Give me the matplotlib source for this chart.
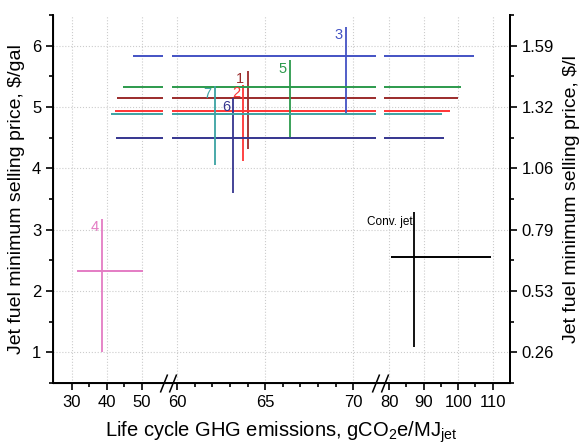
import numpy as np
import matplotlib
matplotlib.use("Agg")
import matplotlib.pyplot as plt
from matplotlib.path import Path
from matplotlib.ticker import FixedLocator, MultipleLocator

plt.rcParams['font.family'] = ['Liberation Sans', 'DejaVu Sans']

# pathway data: price ($/gal), GHG value, price range, GHG range
names = ["1", "2", "3", "4", "5", "6", "7", "Conv. jet"]
price = [5.15, 4.94, 5.83, 2.32, 5.33, 4.50, 4.88, 2.56]
ghg = [64.0, 63.77, 69.6, 38.7, 66.42, 63.2, 62.14, 87.3]
price_lo = [4.32, 4.12, 4.89, 1.01, 4.51, 3.60, 4.06, 1.09]
price_hi = [5.59, 5.36, 6.31, 3.17, 5.76, 5.14, 5.34, 3.28]
ghg_lo = [43.0, 42.4, 47.4, 31.4, 44.7, 42.6, 41.1, 80.5]
ghg_hi = [100.0, 97.6, 104.6, 50.3, 100.7, 95.8, 95.4, 109.6]
colors = ["#9b2b2b", "#ff3434", "#4352c4", "#e47cc4", "#2c9a4c", "#35358f", "#3ca3a3", "black"]

xticks = [30, 40, 50, 60, 65, 70, 80, 90, 100, 110]
xminor = [35, 45, 61, 62, 63, 64, 66, 67, 68, 69, 85, 95, 105]
yticks = [1, 2, 3, 4, 5, 6]
ylabels_l = ["0.26", "0.53", "0.79", "1.06", "1.32", "1.59"]

# broken x axis: data knots -> pixel positions
knot_x = [24.6, 56.2, 59.7, 71.27, 78.6, 115.0]
knot_p = [53.0, 163.3, 171.7, 375.7, 384.3, 510.0]
visible = [(-1e9, 56.2), (59.7, 71.27), (78.6, 1e9)]


def fwd(x):
    x = np.asarray(x, dtype=float)
    kx = [0.0] + knot_x + [200.0]
    kp = [53.0 - 24.6 * 3.5] + knot_p + [510.0 + 85 * 3.47]
    return np.interp(x, kx, kp)


def inv(p):
    p = np.asarray(p, dtype=float)
    kx = [0.0] + knot_x + [200.0]
    kp = [53.0 - 24.6 * 3.5] + knot_p + [510.0 + 85 * 3.47]
    return np.interp(p, kp, kx)


fig = plt.figure(figsize=(5.79, 4.44), dpi=100)
ax = fig.add_axes([53 / 579, 1 - 383 / 444, (510 - 53) / 579, (383 - 15) / 444])
ax.set_xscale('function', functions=(fwd, inv))
ax.set_xlim(24.6, 115)
ax.set_ylim(0.5, 6.5)

for i in range(len(names)):
    c = colors[i]
    for a, b in visible:
        lo = max(ghg_lo[i], a)
        hi = min(ghg_hi[i], b)
        if hi > lo:
            ax.plot([lo, hi], [price[i], price[i]], color=c, lw=1.4, solid_capstyle='butt')
    ax.plot([ghg[i], ghg[i]], [price_lo[i], price_hi[i]], color=c, lw=1.3, solid_capstyle='butt')
    if names[i] == "Conv. jet":
        ax.text(ghg[i] - 0.6, price_hi[i] - 0.05, names[i], color=c, fontsize=8.5,
                ha='right', va='top')
    else:
        off = 0.2 if ghg[i] > 55 else 1.0
        ax.text(ghg[i] - off, price_hi[i] - 0.02, names[i], color=c, fontsize=10.5,
                ha='right', va='top')

ax.xaxis.set_major_locator(FixedLocator(xticks))
ax.xaxis.set_minor_locator(FixedLocator(xminor))
ax.set_xticklabels([str(t) for t in xticks])
ax.set_yticks(yticks)
ax.yaxis.set_minor_locator(MultipleLocator(0.5))
ax.grid(True, which='major', color='#cccccc', linestyle=':', linewidth=0.8)
ax.set_axisbelow(True)

for s in ['left', 'bottom', 'right']:
    ax.spines[s].set_linewidth(1.4)
ax.spines['top'].set_visible(False)
ax.tick_params(which='major', direction='out', length=5, width=1.2, labelsize=12)
ax.tick_params(which='minor', direction='out', length=3, width=1.2)

ax2 = ax.twinx()
ax2.set_ylim(0.5, 6.5)
ax2.set_yticks(yticks)
ax2.set_yticklabels(ylabels_l)
ax2.yaxis.set_minor_locator(MultipleLocator(0.5))
ax2.spines['top'].set_visible(False)
ax2.spines['right'].set_linewidth(1.4)
ax2.tick_params(which='major', direction='out', length=5, width=1.2, labelsize=12)
ax2.tick_params(which='minor', direction='out', length=3, width=1.2)

# break marks on the x axis
brk = Path([(-0.9, -1), (-0.1, 1), (0.1, -1), (0.9, 1)],
           [Path.MOVETO, Path.LINETO, Path.MOVETO, Path.LINETO])
for bx in [57.95, 74.9]:
    ax.plot([bx], [0.5], marker=brk, markersize=13, color='black', mew=1.1,
            clip_on=False, zorder=5)

ax.set_xlabel('Life cycle GHG emissions, gCO$_\\mathregular{2}$e/MJ$_\\mathregular{jet}$',
              fontsize=14.5, labelpad=7)
ax.set_ylabel('Jet fuel minimum selling price, $/gal', fontsize=14, labelpad=5)
ax2.set_ylabel('Jet fuel minimum selling price, $/l', fontsize=14, labelpad=6)

fig.savefig("out.png", dpi=100)
